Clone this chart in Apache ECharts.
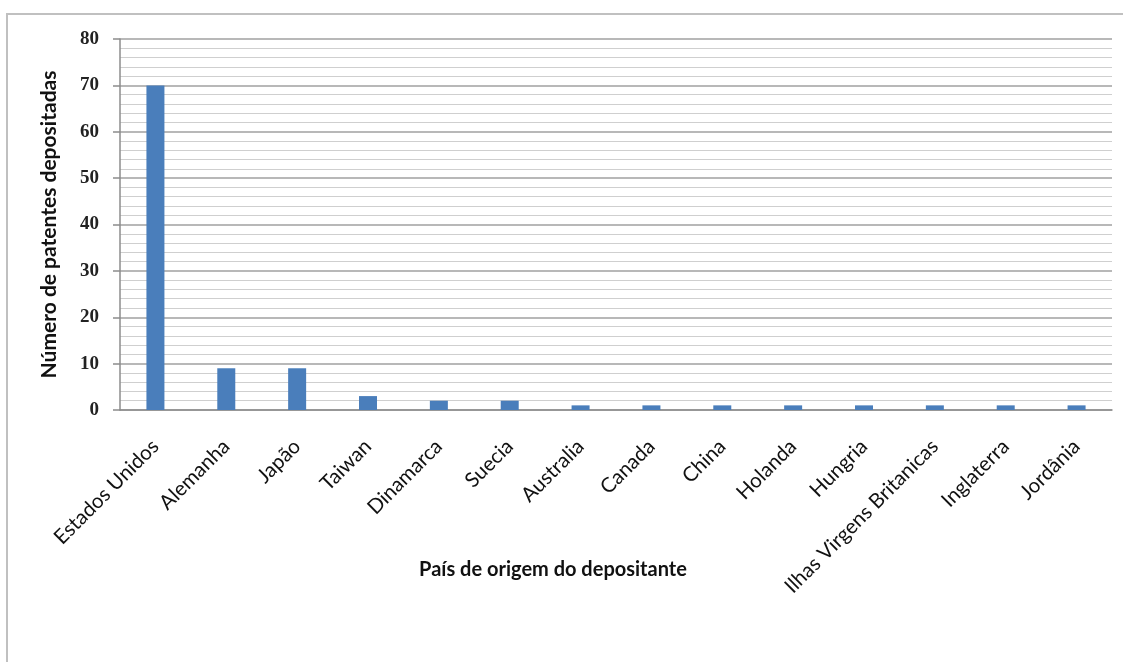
<!DOCTYPE html>
<html><head><meta charset="utf-8">
<script src="https://cdn.jsdelivr.net/npm/echarts@6/dist/echarts.min.js"></script>
<style>html,body{margin:0;padding:0;background:#fff}#c{width:1123px;height:662px}</style>
</head><body><div id="c"></div>
<script>
const categories = ["Estados Unidos","Alemanha","Japão","Taiwan","Dinamarca","Suecia","Australia","Canada","China","Holanda","Hungria","Ilhas Virgens Britanicas","Inglaterra","Jordânia"];
const values = [70, 9, 9, 3, 2, 2, 1, 1, 1, 1, 1, 1, 1, 1];
const yTicks = [0, 10, 20, 30, 40, 50, 60, 70, 80];

const chart = echarts.init(document.getElementById('c'), null, {renderer:'canvas'});
chart.setOption({
  animation:false,
  backgroundColor:'#fff',
  graphic:[{type:'rect', shape:{x:7,y:14,width:1300,height:800}, style:{fill:'none', stroke:'#c0c0c0', lineWidth:2}, z:-1}],
  grid:{left:120, right:11, top:39, bottom:252, containLabel:false},
  xAxis:{
    type:'category', data:categories,
    axisLine:{show:true, lineStyle:{color:'#8c8c8c', width:1.5}},
    axisTick:{show:false},
    axisLabel:{rotate:45, interval:0, margin:33, fontFamily:'Lato', fontSize:20.5, color:'#111'},
    name:'País de origem do depositante', nameLocation:'middle', nameGap:150, nameMoveOverlap:false,
    nameTextStyle:{fontFamily:'Lato', fontWeight:'bold', fontSize:20, color:'#111', padding:[0,126,0,0]}
  },
  yAxis:{
    type:'value', min:0, max:80, interval:10,
    axisLine:{show:true, lineStyle:{color:'#8c8c8c', width:1.5}},
    axisTick:{show:true, length:7, lineStyle:{color:'#8c8c8c', width:1.5}},
    axisLabel:{fontFamily:'Liberation Serif', fontWeight:'bold', fontSize:19, color:'#222', margin:21,
      formatter:function(v){return yTicks.indexOf(v)>=0?String(v):'';}},
    splitLine:{show:true, lineStyle:{color:'#a0a0a0', width:1.5}},
    minorTick:{show:false, splitNumber:5},
    minorSplitLine:{show:true, lineStyle:{color:'#cfcfcf', width:1.2}},
    name:'Número de patentes depositadas', nameLocation:'middle', nameGap:60, nameRotate:90, nameMoveOverlap:false,
    nameTextStyle:{fontFamily:'Lato', fontWeight:'bold', fontSize:21, color:'#111'}
  },
  series:[{type:'bar', data:values, barWidth:18, itemStyle:{color:'#4a7ebb'}}]
});
</script></body></html>
